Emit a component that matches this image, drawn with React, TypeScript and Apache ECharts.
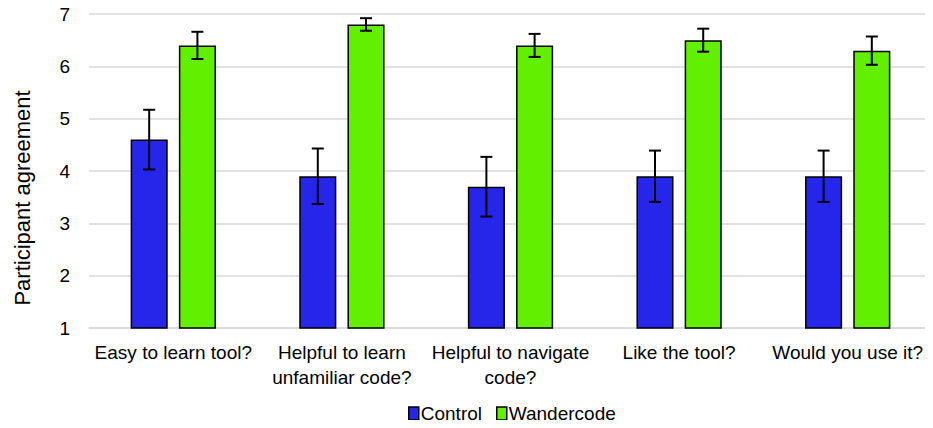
import React, { useEffect, useRef } from "react";
import * as echarts from "echarts";

const categories = [
  "Easy to learn tool?",
  "Helpful to learn\nunfamiliar code?",
  "Helpful to navigate\ncode?",
  "Like the tool?",
  "Would you use it?",
];
const controlValues = [4.6, 3.9, 3.7, 3.9, 3.9];
const controlErrors = [0.57, 0.53, 0.57, 0.49, 0.49];
const wanderValues = [6.4, 6.8, 6.4, 6.5, 6.3];
const wanderErrors = [0.26, 0.12, 0.22, 0.22, 0.27];
const yTicks = [1, 2, 3, 4, 5, 6, 7];
const yTitle = "Participant agreement";

const FONT = "Liberation Sans, Arial, sans-serif";
const BAR_W = 0.22;
const BAR_GAP = 0.3;

function errorSeries(values: number[], errors: number[], side: number) {
  return {
    type: "custom",
    silent: true,
    z: 10,
    data: values.map((v, i) => [i, v, errors[i]]),
    renderItem: (params: any, api: any) => {
      const i = api.value(0);
      const v = api.value(1);
      const e = api.value(2);
      const w = api.size([1, 0])[0];
      const bw = w * BAR_W;
      const off = side * (bw + bw * BAR_GAP) / 2;
      const top = api.coord([i, v + e]);
      const bot = api.coord([i, v - e]);
      const x = top[0] + off;
      const cap = 6;
      const style = { stroke: "#000", lineWidth: 2 };
      return {
        type: "group",
        children: [
          { type: "line", shape: { x1: x, y1: top[1], x2: x, y2: bot[1] }, style },
          { type: "line", shape: { x1: x - cap, y1: top[1], x2: x + cap, y2: top[1] }, style },
          { type: "line", shape: { x1: x - cap, y1: bot[1], x2: x + cap, y2: bot[1] }, style },
        ],
      };
    },
  };
}

export default function App() {
  const ref = useRef<HTMLDivElement>(null);
  useEffect(() => {
    const chart = echarts.init(ref.current!, null, { renderer: "svg" });
    chart.setOption({
      animation: false,
      textStyle: { fontFamily: FONT },
      grid: { left: 89, right: 1, top: 14, bottom: 100 },
      graphic: [
        {
          type: "text",
          x: 22,
          y: 198,
          rotation: Math.PI / 2,
          style: {
            text: yTitle,
            fontSize: 22,
            fontFamily: FONT,
            fill: "#000",
            align: "center",
            verticalAlign: "middle",
          },
        },
      ],
      legend: {
        bottom: 0,
        left: 403,
        data: ["Control", "Wandercode"],
        icon: "rect",
        itemWidth: 10,
        itemHeight: 13,
        itemGap: 14,
        textStyle: { fontSize: 19, color: "#000", fontFamily: FONT, padding: [0, 0, 0, -3] },
        itemStyle: { borderColor: "#000", borderWidth: 1.5 },
      },
      xAxis: {
        type: "category",
        data: categories,
        axisLine: { lineStyle: { color: "#d9d9d9", width: 1.5 } },
        axisTick: { show: false },
        axisLabel: {
          fontSize: 19,
          color: "#000",
          fontFamily: FONT,
          lineHeight: 25,
          margin: 12,
          interval: 0,
        },
      },
      yAxis: {
        type: "value",
        min: 1,
        max: 7,
        interval: 1,
        axisLabel: {
          fontSize: 19,
          color: "#000",
          fontFamily: FONT,
          margin: 19,
          formatter: (v: number) => (yTicks.includes(v) ? String(v) : ""),
        },
        splitLine: { lineStyle: { color: "#d9d9d9", width: 1.5 } },
        axisLine: { show: false },
        axisTick: { show: false },
      },
      series: [
        {
          name: "Control",
          type: "bar",
          data: controlValues,
          barWidth: "22%",
          barGap: "30%",
          itemStyle: { color: "#2626EA", borderColor: "#000", borderWidth: 1.5 },
        },
        {
          name: "Wandercode",
          type: "bar",
          data: wanderValues,
          barWidth: "22%",
          barGap: "30%",
          itemStyle: { color: "#63F000", borderColor: "#000", borderWidth: 1.5 },
        },
        errorSeries(controlValues, controlErrors, -1),
        errorSeries(wanderValues, wanderErrors, 1),
      ],
    });
    return () => chart.dispose();
  }, []);
  return <div ref={ref} style={{ width: 933, height: 428, margin: -8 }} />;
}
